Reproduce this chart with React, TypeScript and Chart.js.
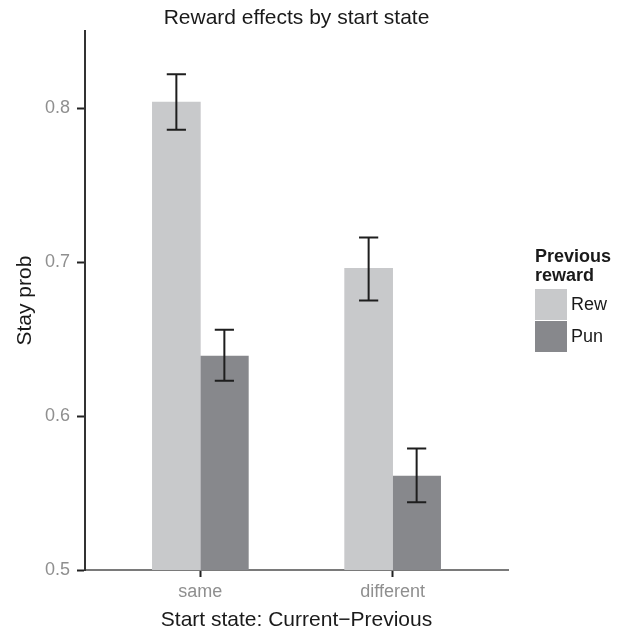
import React, { useEffect, useRef } from "react";
import { Chart, registerables } from "chart.js";

Chart.register(...registerables);

const categories = ["same", "different"];
const seriesNames = ["Rew", "Pun"];
const rewValues = [0.804, 0.696];
const punValues = [0.639, 0.561];
const rewLow = [0.786, 0.675];
const rewHigh = [0.822, 0.716];
const punLow = [0.623, 0.544];
const punHigh = [0.656, 0.579];
const yTicks = [0.5, 0.6, 0.7, 0.8];

const REW_COLOR = "#c8c9cb";
const PUN_COLOR = "#87888c";
const FONT = "'Liberation Sans', Arial, sans-serif";

const errorBarPlugin = {
  id: "errorBars",
  afterDatasetsDraw(chart: any) {
    const { ctx } = chart;
    const yScale = chart.scales.y;
    ctx.save();
    ctx.strokeStyle = "#1e1e1e";
    ctx.lineWidth = 2;
    chart.data.datasets.forEach((ds: any, di: number) => {
      const meta = chart.getDatasetMeta(di);
      meta.data.forEach((bar: any, i: number) => {
        const lo = ds.errLow[i];
        const hi = ds.errHigh[i];
        const x = bar.x;
        const yLo = yScale.getPixelForValue(lo);
        const yHi = yScale.getPixelForValue(hi);
        const half = bar.width * 0.2;
        ctx.beginPath();
        ctx.moveTo(x, yLo);
        ctx.lineTo(x, yHi);
        ctx.moveTo(x - half, yLo);
        ctx.lineTo(x + half, yLo);
        ctx.moveTo(x - half, yHi);
        ctx.lineTo(x + half, yHi);
        ctx.stroke();
      });
    });
    ctx.restore();
  },
};

const legendPlugin = {
  id: "customLegend",
  afterDraw(chart: any) {
    const { ctx, chartArea } = chart;
    const x0 = chartArea.right + 27;
    ctx.save();
    ctx.fillStyle = "#1a1a1a";
    ctx.font = `bold 18px ${FONT}`;
    ctx.textAlign = "left";
    ctx.textBaseline = "alphabetic";
    ctx.fillText("Previous", x0, 262);
    ctx.fillText("reward", x0, 281);
    const sw = 32;
    let y = 289;
    ctx.font = `18px ${FONT}`;
    chart.data.datasets.forEach((ds: any) => {
      ctx.fillStyle = ds.backgroundColor;
      ctx.fillRect(x0, y, sw, sw - 1);
      ctx.fillStyle = "#1a1a1a";
      ctx.textBaseline = "middle";
      ctx.fillText(ds.label, x0 + sw + 4, y + sw / 2);
      y += sw;
    });
    ctx.restore();
  },
};

export default function App() {
  const canvasRef = useRef<HTMLCanvasElement | null>(null);

  useEffect(() => {
    document.body.style.margin = "0";
    const canvas = canvasRef.current;
    if (!canvas) return;
    const chart = new Chart(canvas, {
      type: "bar",
      data: {
        datasets: [
          {
            label: seriesNames[0],
            data: categories.map((_, i) => ({ x: i + 1, y: rewValues[i] })),
            backgroundColor: REW_COLOR,
            errLow: rewLow,
            errHigh: rewHigh,
            barThickness: 48,
          } as any,
          {
            label: seriesNames[1],
            data: categories.map((_, i) => ({ x: i + 1, y: punValues[i] })),
            backgroundColor: PUN_COLOR,
            errLow: punLow,
            errHigh: punHigh,
            barThickness: 48,
          } as any,
        ],
      },
      options: {
        animation: false,
        responsive: true,
        maintainAspectRatio: false,
        layout: { padding: { left: 0, right: 114, top: 0, bottom: 0 } },
        plugins: {
          legend: { display: false },
          tooltip: { enabled: false },
          title: {
            display: true,
            text: "Reward effects by start state",
            fullSize: false,
            color: "#1a1a1a",
            font: { family: FONT, size: 21, weight: "normal", lineHeight: 1.2 },
            padding: { top: 6, bottom: 0 },
          },
        },
        scales: {
          x: {
            type: "linear",
            min: 0.4,
            max: 2.6,
            offset: false,
            afterBuildTicks: (scale: any) => {
              scale.ticks = categories.map((_, i) => ({ value: i + 1 }));
            },
            afterFit: (scale: any) => {
              scale.height = 61;
            },
            ticks: {
              callback: (v: any) => categories[Math.round(Number(v)) - 1] ?? "",
              color: "#8f8f8f",
              font: { family: FONT, size: 18 },
              padding: 4,
              maxRotation: 0,
              autoSkip: false,
            },
            grid: {
              display: true,
              offset: false,
              drawOnChartArea: false,
              drawTicks: true,
              tickLength: 7,
              tickColor: "#222",
              tickWidth: 2,
            },
            border: { display: true, color: "#7a7a7a", width: 2 },
            title: {
              display: true,
              text: "Start state: Current\u2212Previous",
              color: "#1a1a1a",
              font: { family: FONT, size: 21, lineHeight: 1.1 },
              padding: { top: 0, bottom: -0.5 },
            },
          },
          y: {
            type: "linear",
            min: 0.5,
            max: 0.85,
            afterBuildTicks: (scale: any) => {
              scale.ticks = yTicks.map((v) => ({ value: v }));
            },
            afterFit: (scale: any) => {
              scale.width = 85;
            },
            ticks: {
              callback: (v: any) => Number(v).toFixed(1),
              color: "#8f8f8f",
              font: { family: FONT, size: 18 },
              padding: 7,
            },
            grid: {
              display: true,
              offset: false,
              drawOnChartArea: false,
              drawTicks: true,
              tickLength: 8,
              tickColor: "#222",
              tickWidth: 2,
            },
            border: { display: true, color: "#333", width: 2 },
            title: {
              display: true,
              text: "Stay prob",
              color: "#1a1a1a",
              font: { family: FONT, size: 21, lineHeight: 1.2 },
              padding: { top: 12.4, bottom: 0 },
            },
          },
        },
      } as any,
      plugins: [errorBarPlugin, legendPlugin],
    });
    return () => chart.destroy();
  }, []);

  return (
    <div style={{ position: "fixed", left: 0, top: 0, width: 622, height: 631 }}>
      <canvas ref={canvasRef} />
    </div>
  );
}
